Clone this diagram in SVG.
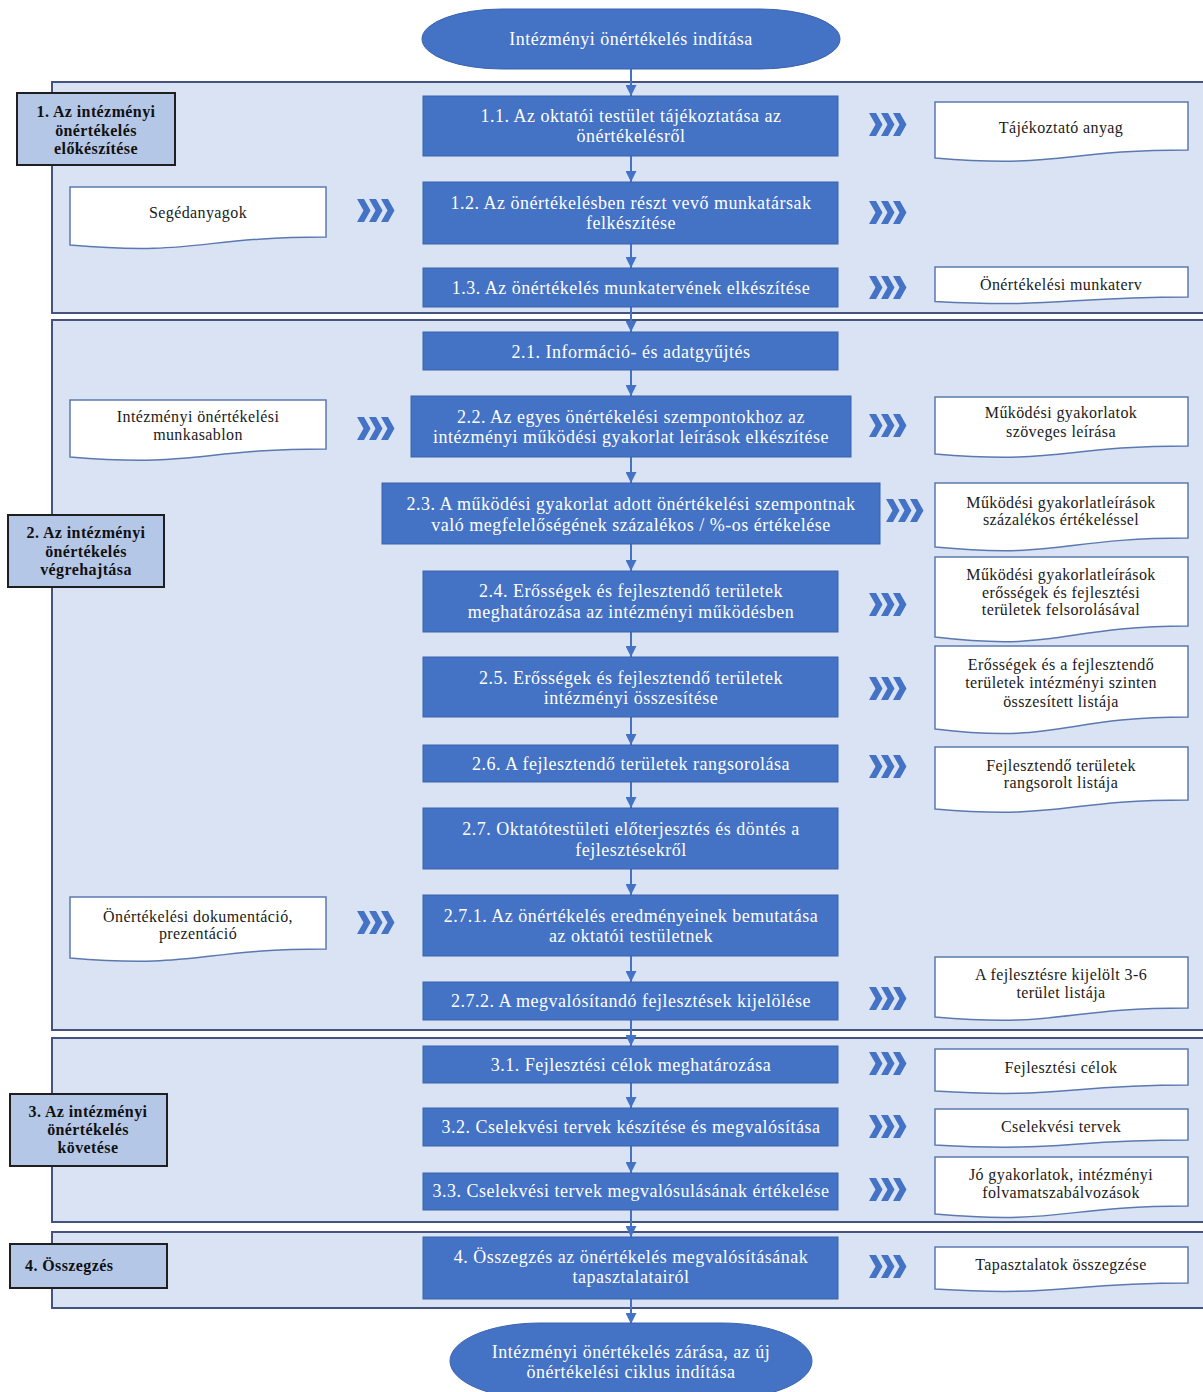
<svg xmlns="http://www.w3.org/2000/svg" xmlns:xlink="http://www.w3.org/1999/xlink" width="1203" height="1392" viewBox="0 0 1203 1392">
<style>
.panel{fill:#dae3f3;stroke:#44547e;stroke-width:2}
.label{fill:#b4c7e7;stroke:#1f1f1f;stroke-width:2}
.box{fill:#4472c4;stroke:#3b63ad;stroke-width:1}
.term{fill:#4472c4;stroke:#3b63ad;stroke-width:1}
.doc{fill:#ffffff;stroke:#5b79b0;stroke-width:1.5}
.bt{font-family:"Liberation Serif","Times New Roman",serif;font-size:18px;letter-spacing:0.5px;fill:#ffffff;text-anchor:middle}
.dt{font-family:"Liberation Serif","Times New Roman",serif;font-size:16px;letter-spacing:0.4px;fill:#1a1a1a;text-anchor:middle}
.lt{font-family:"Liberation Serif","Times New Roman",serif;font-size:16px;letter-spacing:0.4px;font-weight:bold;fill:#111111;text-anchor:middle}
.conn{stroke:#4472c4;stroke-width:2;fill:none}
.chev{fill:#4472c4}
</style>
<defs>
<marker id="ah" viewBox="0 0 10 10" refX="10" refY="5" markerWidth="12" markerHeight="11" orient="auto" markerUnits="userSpaceOnUse">
<path d="M0,0 L10,5 L0,10 z" fill="#4472c4"/>
</marker>
<g id="chevs" class="chev">
<polygon points="0,0 7,0 13.5,11.5 7,23 0,23 6.5,11.5"/>
<polygon points="12,0 19,0 25.5,11.5 19,23 12,23 18.5,11.5"/>
<polygon points="24,0 31,0 37.5,11.5 31,23 24,23 30.5,11.5"/>
</g>
</defs>
<rect width="1203" height="1392" fill="#ffffff"/>

<!-- phase panels -->
<g id="panel1"><rect class="panel" x="52" y="82" width="1165" height="231"/></g>
<g id="panel2"><rect class="panel" x="52" y="320" width="1165" height="710"/></g>
<g id="panel3"><rect class="panel" x="52" y="1038" width="1165" height="184"/></g>
<g id="panel4"><rect class="panel" x="52" y="1232" width="1165" height="76"/></g>

<!-- connectors -->
<g id="connectors" class="conn" marker-end="url(#ah)">
<line x1="631" y1="69" x2="631" y2="96"/>
<line x1="631" y1="156" x2="631" y2="182"/>
<line x1="631" y1="244" x2="631" y2="268"/>
<line x1="631" y1="307" x2="631" y2="332"/>
<line x1="631" y1="370" x2="631" y2="396"/>
<line x1="631" y1="457" x2="631" y2="483"/>
<line x1="631" y1="544" x2="631" y2="571"/>
<line x1="631" y1="632" x2="631" y2="657"/>
<line x1="631" y1="717" x2="631" y2="745"/>
<line x1="631" y1="782" x2="631" y2="808"/>
<line x1="631" y1="869" x2="631" y2="895"/>
<line x1="631" y1="956" x2="631" y2="982"/>
<line x1="631" y1="1020" x2="631" y2="1046"/>
<line x1="631" y1="1083" x2="631" y2="1108"/>
<line x1="631" y1="1146" x2="631" y2="1173"/>
<line x1="631" y1="1210" x2="631" y2="1237"/>
<line x1="631" y1="1299" x2="631" y2="1324"/>
</g>

<!-- chevrons -->
<g id="chevrons">
<use xlink:href="#chevs" x="869" y="113"/>
<use xlink:href="#chevs" x="357" y="199"/>
<use xlink:href="#chevs" x="869" y="201"/>
<use xlink:href="#chevs" x="869" y="276"/>
<use xlink:href="#chevs" x="357" y="417"/>
<use xlink:href="#chevs" x="869" y="414"/>
<use xlink:href="#chevs" x="886" y="499"/>
<use xlink:href="#chevs" x="869" y="593"/>
<use xlink:href="#chevs" x="869" y="677"/>
<use xlink:href="#chevs" x="869" y="755"/>
<use xlink:href="#chevs" x="357" y="911"/>
<use xlink:href="#chevs" x="869" y="987"/>
<use xlink:href="#chevs" x="869" y="1052"/>
<use xlink:href="#chevs" x="869" y="1115"/>
<use xlink:href="#chevs" x="869" y="1178"/>
<use xlink:href="#chevs" x="869" y="1255"/>
</g>

<!-- terminals -->
<g id="start">
<rect class="term" x="422" y="9" width="418" height="60" rx="80" ry="30"/>
<text class="bt" x="631" y="45">Intézményi önértékelés indítása</text>
</g>
<g id="end">
<rect class="term" x="450" y="1323" width="362" height="76" rx="90" ry="38"/>
<text class="bt" x="631" y="1358">Intézményi önértékelés zárása, az új</text>
<text class="bt" x="631" y="1378">önértékelési ciklus indítása</text>
</g>

<!-- phase labels -->
<g id="label1">
<rect class="label" x="17" y="93" width="158" height="72"/>
<text class="lt" x="96" y="117">1. Az intézményi</text>
<text class="lt" x="96" y="136">önértékelés</text>
<text class="lt" x="96" y="154">előkészítése</text>
</g>
<g id="label2">
<rect class="label" x="8" y="515" width="156" height="72"/>
<text class="lt" x="86" y="538">2. Az intézményi</text>
<text class="lt" x="86" y="557">önértékelés</text>
<text class="lt" x="86" y="575">végrehajtása</text>
</g>
<g id="label3">
<rect class="label" x="10" y="1094" width="157" height="72"/>
<text class="lt" x="88" y="1117">3. Az intézményi</text>
<text class="lt" x="88" y="1135">önértékelés</text>
<text class="lt" x="88" y="1153">követése</text>
</g>
<g id="label4">
<rect class="label" x="10" y="1244" width="157" height="44"/>
<text class="lt" x="25" y="1271" style="text-anchor:start">4. Összegzés</text>
</g>

<!-- process boxes -->
<g id="s1_1"><rect class="box" x="423" y="96" width="415" height="60"/>
<text class="bt" x="631" y="122">1.1.  Az oktatói testület tájékoztatása az</text>
<text class="bt" x="631" y="142">önértékelésről</text></g>
<g id="s1_2"><rect class="box" x="423" y="182" width="415" height="62"/>
<text class="bt" x="631" y="209">1.2.  Az önértékelésben részt vevő munkatársak</text>
<text class="bt" x="631" y="229">felkészítése</text></g>
<g id="s1_3"><rect class="box" x="423" y="268" width="415" height="39"/>
<text class="bt" x="631" y="294">1.3.  Az önértékelés munkatervének elkészítése</text></g>
<g id="s2_1"><rect class="box" x="423" y="332" width="415" height="38"/>
<text class="bt" x="631" y="358">2.1.  Információ- és adatgyűjtés</text></g>
<g id="s2_2"><rect class="box" x="411" y="396" width="440" height="61"/>
<text class="bt" x="631" y="423">2.2. Az egyes önértékelési szempontokhoz az</text>
<text class="bt" x="631" y="443">intézményi működési gyakorlat leírások elkészítése</text></g>
<g id="s2_3"><rect class="box" x="382" y="483" width="498" height="61"/>
<text class="bt" x="631" y="510">2.3. A működési gyakorlat adott önértékelési szempontnak</text>
<text class="bt" x="631" y="531">való megfelelőségének százalékos / %-os értékelése</text></g>
<g id="s2_4"><rect class="box" x="423" y="571" width="415" height="61"/>
<text class="bt" x="631" y="597">2.4.  Erősségek és fejlesztendő területek</text>
<text class="bt" x="631" y="618">meghatározása az intézményi működésben</text></g>
<g id="s2_5"><rect class="box" x="423" y="657" width="415" height="60"/>
<text class="bt" x="631" y="684">2.5.  Erősségek és fejlesztendő területek</text>
<text class="bt" x="631" y="704">intézményi összesítése</text></g>
<g id="s2_6"><rect class="box" x="423" y="745" width="415" height="37"/>
<text class="bt" x="631" y="770">2.6. A fejlesztendő területek rangsorolása</text></g>
<g id="s2_7"><rect class="box" x="423" y="808" width="415" height="61"/>
<text class="bt" x="631" y="835">2.7. Oktatótestületi előterjesztés és döntés a</text>
<text class="bt" x="631" y="856">fejlesztésekről</text></g>
<g id="s2_7_1"><rect class="box" x="423" y="895" width="415" height="61"/>
<text class="bt" x="631" y="922">2.7.1. Az önértékelés eredményeinek bemutatása</text>
<text class="bt" x="631" y="942">az oktatói testületnek</text></g>
<g id="s2_7_2"><rect class="box" x="423" y="982" width="415" height="38"/>
<text class="bt" x="631" y="1007">2.7.2. A megvalósítandó fejlesztések kijelölése</text></g>
<g id="s3_1"><rect class="box" x="423" y="1046" width="415" height="37"/>
<text class="bt" x="631" y="1071">3.1.  Fejlesztési célok meghatározása</text></g>
<g id="s3_2"><rect class="box" x="423" y="1108" width="415" height="38"/>
<text class="bt" x="631" y="1133">3.2. Cselekvési tervek készítése és megvalósítása</text></g>
<g id="s3_3"><rect class="box" x="423" y="1173" width="415" height="37"/>
<text class="bt" x="631" y="1197">3.3. Cselekvési tervek megvalósulásának értékelése</text></g>
<g id="s4"><rect class="box" x="423" y="1237" width="415" height="62"/>
<text class="bt" x="631" y="1263">4. Összegzés az önértékelés megvalósításának</text>
<text class="bt" x="631" y="1283">tapasztalatairól</text></g>

<!-- documents: right side x=935 w=253; left side x=70 w=256 -->
<g id="d1"><path class="doc" d="M935,102 H1188 V150 C1061.5,150 1061.5,168.4 935,158 Z"/>
<text class="dt" x="1061" y="133">Tájékoztató anyag</text></g>
<g id="d2"><path class="doc" d="M70,187 H326 V237 C198,237 198,256 70,245 Z"/>
<text class="dt" x="198" y="218">Segédanyagok</text></g>
<g id="d3"><path class="doc" d="M935,267 H1188 V297 C1061.5,297 1061.5,308 935,301.5 Z"/>
<text class="dt" x="1061" y="290">Önértékelési munkaterv</text></g>
<g id="d4"><path class="doc" d="M70,400 H326 V449 C198,449 198,467.5 70,457 Z"/>
<text class="dt" x="198" y="422">Intézményi önértékelési</text>
<text class="dt" x="198" y="440">munkasablon</text></g>
<g id="d5"><path class="doc" d="M935,397 H1188 V446 C1061.5,446 1061.5,464.5 935,454 Z"/>
<text class="dt" x="1061" y="418">Működési gyakorlatok</text>
<text class="dt" x="1061" y="437">szöveges leírása</text></g>
<g id="d6"><path class="doc" d="M935,483 H1188 V538 C1061.5,538 1061.5,559 935,547 Z"/>
<text class="dt" x="1061" y="508">Működési gyakorlatleírások</text>
<text class="dt" x="1061" y="525">százalékos értékeléssel</text></g>
<g id="d7"><path class="doc" d="M935,557 H1188 V626 C1061.5,626 1061.5,652 935,637 Z"/>
<text class="dt" x="1061" y="580">Működési gyakorlatleírások</text>
<text class="dt" x="1061" y="598">erősségek és fejlesztési</text>
<text class="dt" x="1061" y="615">területek felsorolásával</text></g>
<g id="d8"><path class="doc" d="M935,646 H1188 V717 C1061.5,717 1061.5,744 935,729 Z"/>
<text class="dt" x="1061" y="670">Erősségek és a fejlesztendő</text>
<text class="dt" x="1061" y="688">területek intézményi szinten</text>
<text class="dt" x="1061" y="707">összesített listája</text></g>
<g id="d9"><path class="doc" d="M935,747 H1188 V800 C1061.5,800 1061.5,820 935,809 Z"/>
<text class="dt" x="1061" y="771">Fejlesztendő területek</text>
<text class="dt" x="1061" y="788">rangsorolt listája</text></g>
<g id="d10"><path class="doc" d="M70,897 H326 V949 C198,949 198,969 70,958 Z"/>
<text class="dt" x="198" y="922">Önértékelési dokumentáció,</text>
<text class="dt" x="198" y="939">prezentáció</text></g>
<g id="d11"><path class="doc" d="M935,957 H1188 V1008 C1061.5,1008 1061.5,1028 935,1017 Z"/>
<text class="dt" x="1061" y="980">A fejlesztésre kijelölt 3-6</text>
<text class="dt" x="1061" y="998">terület listája</text></g>
<g id="d12"><path class="doc" d="M935,1049 H1188 V1085 C1061.5,1085 1061.5,1099 935,1091 Z"/>
<text class="dt" x="1061" y="1073">Fejlesztési célok</text></g>
<g id="d13"><path class="doc" d="M935,1109 H1188 V1140 C1061.5,1140 1061.5,1152 935,1145 Z"/>
<text class="dt" x="1061" y="1132">Cselekvési tervek</text></g>
<g id="d14"><path class="doc" d="M935,1157 H1188 V1206 C1061.5,1206 1061.5,1225 935,1214 Z"/>
<text class="dt" x="1061" y="1180">Jó gyakorlatok, intézményi</text>
<text class="dt" x="1061" y="1198">folvamatszabálvozások</text></g>
<g id="d15"><path class="doc" d="M935,1247 H1188 V1283 C1061.5,1283 1061.5,1297 935,1289 Z"/>
<text class="dt" x="1061" y="1270">Tapasztalatok összegzése</text></g>
</svg>
